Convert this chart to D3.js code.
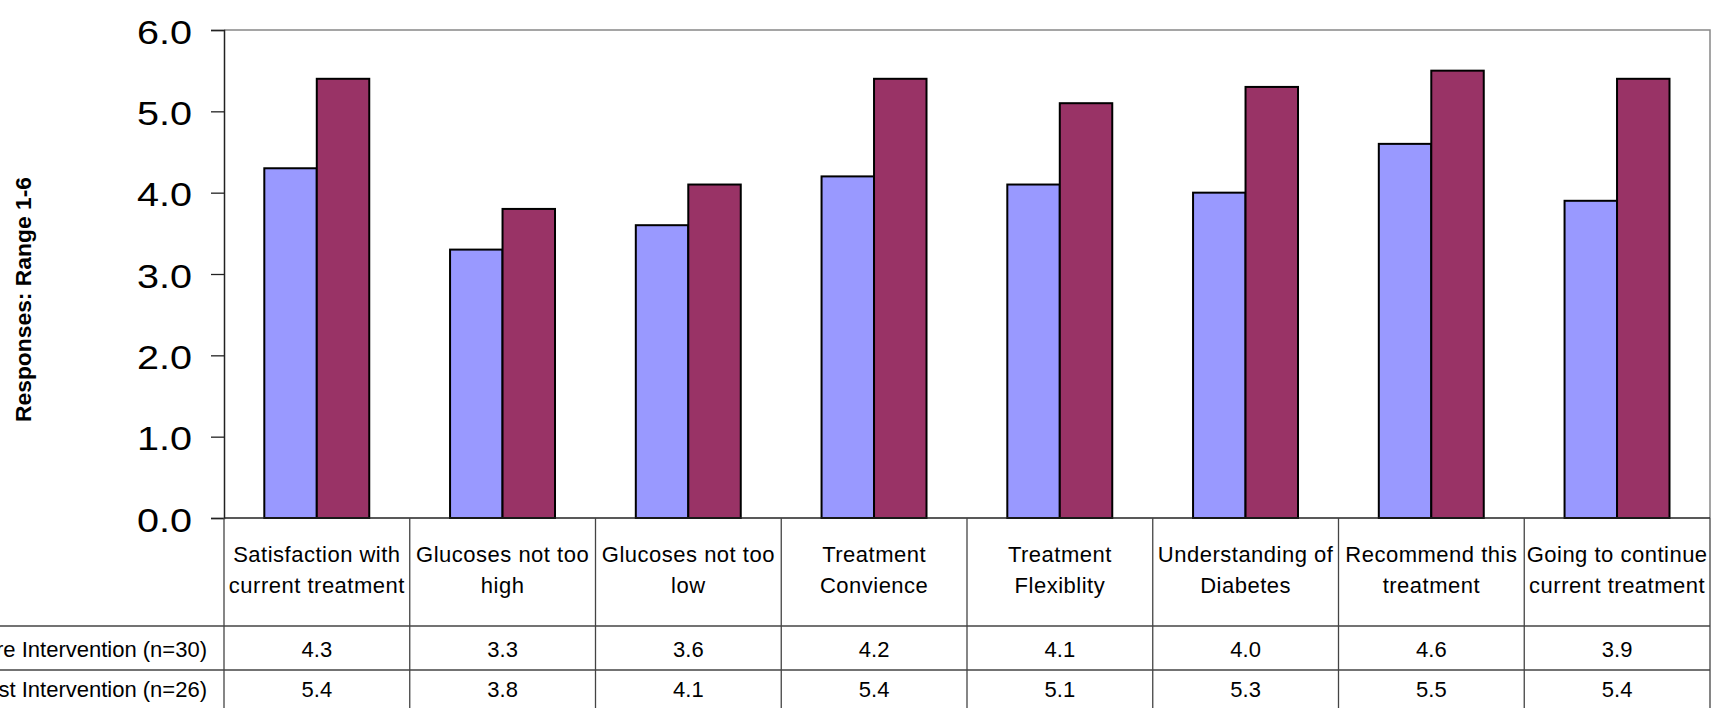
<!DOCTYPE html>
<html>
<head>
<meta charset="utf-8">
<script src="https://cdn.jsdelivr.net/npm/d3@7"></script>
<style>
  html, body { margin: 0; padding: 0; background: #fff; overflow: hidden; }
  svg { display: block; font-family: "Liberation Sans", Arial, sans-serif; }
</style>
</head>
<body>
<svg id="chart" width="1714" height="708"></svg>
<script>
// Survey questions (two header lines each in the data table)
const categories = [
  ["Satisfaction with", "current treatment"],
  ["Glucoses not too", "high"],
  ["Glucoses not too", "low"],
  ["Treatment", "Convience"],
  ["Treatment", "Flexiblity"],
  ["Understanding of", "Diabetes"],
  ["Recommend this", "treatment"],
  ["Going to continue", "current treatment"]
];
const seriesNames = ["Pre Intervention (n=30)", "Post Intervention (n=26)"];
const preValues  = [4.3, 3.3, 3.6, 4.2, 4.1, 4.0, 4.6, 3.9];
const postValues = [5.4, 3.8, 4.1, 5.4, 5.1, 5.3, 5.5, 5.4];
const seriesColors = ["#9999FF", "#993366"];
const yTicks = [0, 1, 2, 3, 4, 5, 6];
const yTitle = "Responses: Range 1-6";

const series = [preValues, postValues];

const svg = d3.select("#chart");
const plot = { left: 224, right: 1710, top: 30, bottom: 518 };
const rowLines = [626, 670, 714];

const x = d3.scaleBand()
  .domain(d3.range(categories.length))
  .range([plot.left, plot.right]);

const xInner = d3.scaleBand()
  .domain(d3.range(series.length))
  .range([x.bandwidth() * 0.217, x.bandwidth() * 0.782]);

const y = d3.scaleLinear().domain([0, 6]).range([plot.bottom, plot.top]);

// plot border (top and right)
svg.append("path")
  .attr("d", `M${plot.left},${plot.top}H${plot.right}V${plot.bottom}`)
  .attr("fill", "none").attr("stroke", "#888").attr("stroke-width", 1.5);

// bars
const groups = svg.append("g").selectAll("g")
  .data(categories.map((c, i) => i))
  .join("g")
  .attr("transform", i => `translate(${x(i)},0)`);

groups.selectAll("rect")
  .data(i => series.map((s, k) => ({ k, v: s[i] })))
  .join("rect")
  .attr("x", d => xInner(d.k))
  .attr("width", xInner.bandwidth())
  .attr("y", d => y(d.v))
  .attr("height", d => y(0) - y(d.v))
  .attr("fill", d => seriesColors[d.k])
  .attr("stroke", "#000")
  .attr("stroke-width", 2);

// y axis
const yAxis = d3.axisLeft(y)
  .tickValues(yTicks)
  .tickFormat(d3.format(".1f"))
  .tickSize(13)
  .tickPadding(19);

const ya = svg.append("g")
  .attr("transform", `translate(${plot.left},0)`)
  .call(yAxis);
ya.attr("font-size", null).attr("font-family", null);
ya.select(".domain").attr("stroke", "#222").attr("stroke-width", 1.5);
ya.selectAll(".tick line").attr("stroke", "#222").attr("stroke-width", 1.3);
ya.selectAll(".tick text")
  .style("font-size", "33px")
  .style("font-family", "'Liberation Sans', Arial, sans-serif")
  .attr("fill", "#000")
  .attr("dy", "0.4em")
  .attr("textLength", 55)
  .attr("lengthAdjust", "spacingAndGlyphs");

// baseline across the plot
svg.append("line")
  .attr("x1", plot.left).attr("x2", plot.right)
  .attr("y1", y(0)).attr("y2", y(0))
  .attr("stroke", "#222").attr("stroke-width", 1.5);

// y axis title
svg.append("text")
  .attr("transform", `translate(23,${(177 + 422) / 2}) rotate(-90)`)
  .attr("text-anchor", "middle")
  .attr("dominant-baseline", "central")
  .style("font-size", "22px")
  .attr("font-weight", "bold")
  .attr("textLength", 245)
  .attr("lengthAdjust", "spacingAndGlyphs")
  .text(yTitle);

// data table grid
const grid = svg.append("g").attr("stroke", "#444").attr("stroke-width", 1.3);
rowLines.forEach(ry => {
  grid.append("line").attr("x1", 0).attr("x2", plot.right).attr("y1", ry).attr("y2", ry);
});
d3.range(categories.length + 1).forEach(i => {
  const cx = i < categories.length ? x(i) : plot.right;
  grid.append("line").attr("x1", cx).attr("x2", cx).attr("y1", plot.bottom).attr("y2", 708);
});

// header labels
const header = svg.append("g")
  .style("font-size", "22px")
  .style("letter-spacing", "0.5px")
  .attr("text-anchor", "middle").attr("fill", "#000");
categories.forEach((lines, i) => {
  lines.forEach((t, j) => {
    header.append("text")
      .attr("x", x(i) + x.bandwidth() / 2)
      .attr("y", 562 + j * 31)
      .text(t);
  });
});

// value rows
const rowBase = [657, 697];
series.forEach((vals, k) => {
  svg.append("text")
    .attr("x", 207).attr("y", rowBase[k])
    .attr("text-anchor", "end")
    .style("font-size", "22px")
    .text(seriesNames[k]);
  vals.forEach((v, i) => {
    svg.append("text")
      .attr("x", x(i) + x.bandwidth() / 2)
      .attr("y", rowBase[k])
      .attr("text-anchor", "middle")
      .style("font-size", "22px")
      .text(d3.format(".1f")(v));
  });
});
</script>
</body>
</html>
